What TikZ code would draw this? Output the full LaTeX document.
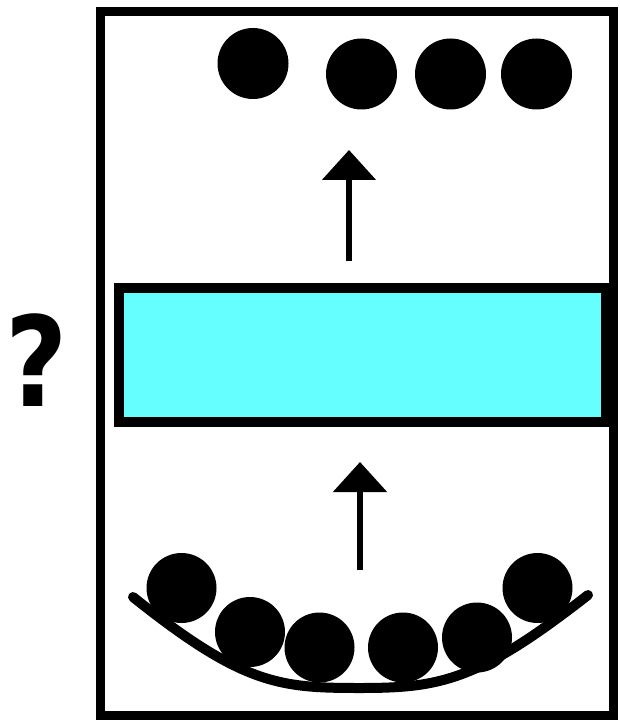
\documentclass[tikz,border=0pt]{standalone}
\usepackage{graphicx}
\usepackage{fontspec}
\setmainfont{DejaVu Sans}
\usetikzlibrary{arrows.meta}
\definecolor{boxcyan}{RGB}{102,255,255}
\tikzset{
  ball/.style={circle, fill=black, inner sep=0pt, minimum size=71pt},
  smallball/.style={ball, minimum size=70pt},
  uparrow/.style={line width=5.5pt, -{Triangle[width=53pt,length=30pt]}},
  frameline/.style={draw=black, line width=9pt, inner sep=0pt},
}
\begin{document}
\begin{tikzpicture}[x=1pt,y=-1pt]
  \useasboundingbox (0,0) rectangle (620,722);

  % outer frame
  \node[frameline, minimum width=512.5pt, minimum height=703pt] (frame) at (356.75,363.5) {};

  % question mark
  \node[font=\bfseries\fontsize{125}{125}\selectfont, inner sep=0pt] (q) at (36.5,360) {\scalebox{0.86}[1]{?}};

  % cyan process box
  \node[draw=black, line width=10pt, fill=boxcyan, inner sep=0pt,
        minimum width=487pt, minimum height=134pt] (box) at (362.5,355) {};

  % output balls on top
  \node[ball] (t1) at (253,63.5) {};
  \node[ball] (t2) at (361.5,74) {};
  \node[ball] (t3) at (450.5,74) {};
  \node[ball] (t4) at (536.5,74) {};

  % arrows
  \coordinate (a1tail) at (349,261);
  \coordinate (a1head) at (349,150);
  \draw[uparrow] (a1tail) -- (a1head);
  \coordinate (a2tail) at (360,570);
  \coordinate (a2head) at (360,462);
  \draw[uparrow] (a2tail) -- (a2head);

  % bowl: straight-ish sides, flat bottom
  \coordinate (bowlL) at (133,597);
  \coordinate (bowlM) at (360,688);
  \coordinate (bowlR) at (588,595);
  \draw[line width=10pt, line cap=round]
    (bowlL) .. controls (243,685) and (280,688) .. (bowlM)
            .. controls (440,688) and (478,681) .. (bowlR);

  % input balls in the bowl
  \node[smallball] (b1) at (181.5,588) {};
  \node[smallball] (b2) at (250,632) {};
  \node[smallball] (b3) at (319.5,647.5) {};
  \node[smallball] (b4) at (403,647.5) {};
  \node[smallball] (b5) at (477,637.5) {};
  \node[smallball] (b6) at (537.5,588) {};
\end{tikzpicture}
\end{document}
